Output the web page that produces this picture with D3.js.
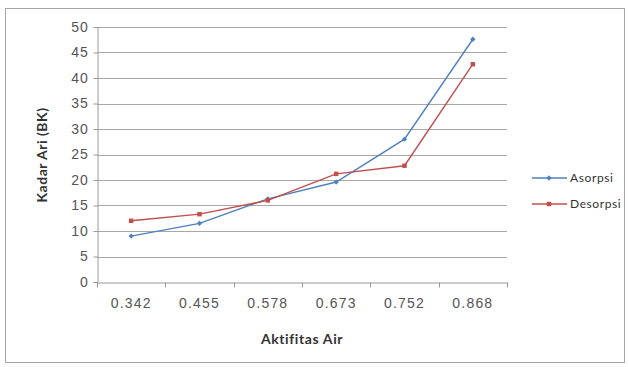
<!DOCTYPE html>
<html><head><meta charset="utf-8">
<script src="https://cdn.jsdelivr.net/npm/d3@7"></script>
<style>body{margin:0;background:#fff;}svg{display:block;font-family:Lato,"Open Sans",sans-serif;}</style>
</head><body><svg id="c" width="629" height="367"></svg>
<script>
const categories = ["0.342","0.455","0.578","0.673","0.752","0.868"];
const asorpsi = [9.0, 11.5, 16.3, 19.6, 28.0, 47.6];
const desorpsi = [12.0, 13.3, 16.0, 21.2, 22.8, 42.7];
const yTicks = [0,5,10,15,20,25,30,35,40,45,50];
const seriesNames = ["Asorpsi","Desorpsi"];
const colors = ["#4F81BD","#C0504D"];

const svg = d3.select("#c");
svg.append("rect").attr("x",5.5).attr("y",8.5).attr("width",619).attr("height",354)
  .attr("fill","#fff").attr("stroke","#a6a6a6");

const L=97, R=507, T=27, B=282;
const x = d3.scaleBand().domain(categories).range([L,R]);
const y = d3.scaleLinear().domain([0,50]).range([B,T]);

// gridlines
svg.append("g").selectAll("line").data(yTicks.filter(d=>d>0)).join("line")
  .attr("x1",L).attr("x2",R).attr("y1",d=>Math.round(y(d))+0.5).attr("y2",d=>Math.round(y(d))+0.5)
  .attr("stroke","#a8a8a8").attr("stroke-width",1);

// y axis
const ya = svg.append("g").attr("transform",`translate(${L+0.5},0)`)
  .call(d3.axisLeft(y).tickValues(yTicks).tickSize(4).tickPadding(5));
ya.select(".domain").attr("stroke","#999");
ya.selectAll(".tick line").attr("stroke","#999");
ya.selectAll(".tick text").attr("fill","#555").style("font-size","14px").style("letter-spacing","0.8px");

// x axis
const xa = svg.append("g").attr("transform",`translate(0,${B+0.5})`)
  .call(d3.axisBottom(x).tickSize(0).tickPadding(16));
xa.select(".domain").attr("stroke","#999");
xa.selectAll(".tick text").attr("fill","#555").style("font-size","14px").style("letter-spacing","1.2px");
const bounds = categories.map(c=>x(c)).concat([R]);
xa.append("g").selectAll("line").data(bounds).join("line")
  .attr("x1",d=>Math.round(d)+0.5).attr("x2",d=>Math.round(d)+0.5).attr("y1",0).attr("y2",5)
  .attr("stroke","#999");

// titles
svg.append("text").attr("x",302).attr("y",344).attr("text-anchor","middle")
  .style("font-size","14px").style("font-weight","bold").style("letter-spacing","0.6px")
  .attr("fill","#333").text("Aktifitas Air");
svg.append("text").attr("transform","translate(47,155) rotate(-90)").attr("text-anchor","middle")
  .style("font-size","14px").style("font-weight","bold").style("letter-spacing","0.5px")
  .attr("fill","#333").text("Kadar Ari (BK)");

const cx = c => x(c)+x.bandwidth()/2;
const data = [asorpsi, desorpsi];
const line = d3.line().x((d,i)=>cx(categories[i])).y(d=>y(d));
const marker = (si) => si===0
  ? d3.symbol(d3.symbolSquare, 14)()
  : d3.symbol(d3.symbolSquare, 20)();
data.forEach((vals,si)=>{
  svg.append("path").datum(vals).attr("d",line).attr("fill","none")
    .attr("stroke",colors[si]).attr("stroke-width",1.4);
  svg.append("g").selectAll("path").data(vals).join("path")
    .attr("transform",(d,i)=>`translate(${cx(categories[i])},${y(d)})` + (si===0?" rotate(45)":""))
    .attr("d",marker(si)).attr("fill",colors[si]);
});

// legend
const lg = svg.append("g");
seriesNames.forEach((n,i)=>{
  const ly = 178 + i*26;
  lg.append("line").attr("x1",532).attr("x2",567).attr("y1",ly).attr("y2",ly)
    .attr("stroke",colors[i]).attr("stroke-width",1.4);
  lg.append("path").attr("transform",`translate(549,${ly})` + (i===0?" rotate(45)":""))
    .attr("d",marker(i)).attr("fill",colors[i]);
  lg.append("text").attr("x",570).attr("y",ly+4).style("font-size","12px").style("letter-spacing","0.6px")
    .attr("fill","#333").text(n);
});
</script></body></html>
